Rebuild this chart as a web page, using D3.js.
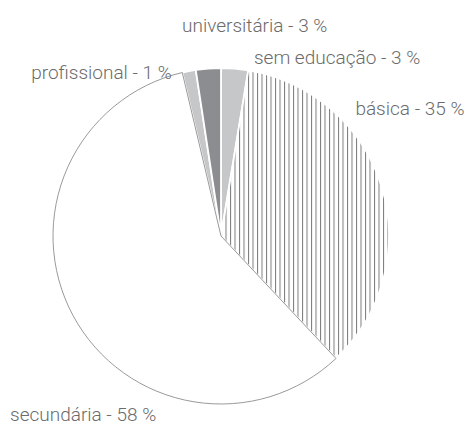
<!DOCTYPE html>
<html>
<head>
<meta charset="utf-8">
<script src="https://cdn.jsdelivr.net/npm/d3@7"></script>
<style>
  body { margin: 0; background: #fff; }
  .label { font-family: Roboto, "Liberation Sans", sans-serif; font-weight: 300; font-size: 19px; fill: #6b6b6b; }
</style>
</head>
<body>
<div id="chart"></div>
<script>
// the data (order = clockwise from 12 o'clock)
var categories = ["sem educação", "básica", "secundária", "profissional", "universitária"];
var shares = [2.6, 35.4, 58.3, 1.3, 2.4];
var labelPct = ["3 %", "35 %", "58 %", "1 %", "3 %"];

function drawChart(){

var width = 469,
    height = 428,
    cx = 221,
    cy = 236,
    radius = 168;

var data = categories.map(function(c, i) {
  return {name: c, value: shares[i], pct: labelPct[i]};
});

var svg = d3.select("#chart").append("svg")
    .attr("width", width)
    .attr("height", height);

// vertical hatch for "básica"
var defs = svg.append("defs");
var pat = defs.append("pattern")
    .attr("id", "hatch")
    .attr("patternUnits", "userSpaceOnUse")
    .attr("width", 4.5)
    .attr("height", 10);
pat.append("rect")
    .attr("width", 4.5)
    .attr("height", 10)
    .attr("fill", "#fff");
pat.append("line")
    .attr("x1", 0.5).attr("x2", 0.5)
    .attr("y1", 0).attr("y2", 10)
    .attr("stroke", "#7a7a7a")
    .attr("stroke-width", 1);

var fills = {
  "sem educação": "#c6c7c9",
  "básica": "url(#hatch)",
  "secundária": "#fff",
  "profissional": "#c6c7c9",
  "universitária": "#8c8d90"
};

var pie = d3.pie()
    .sort(null)
    .value(function(d) { return d.value; });

var arc = d3.arc()
    .innerRadius(0)
    .outerRadius(radius);

var g = svg.append("g")
    .attr("transform", "translate(" + cx + "," + cy + ")");

var arcs = pie(data);

g.selectAll("path.slice")
    .data(arcs)
    .enter().append("path")
    .attr("class", "slice")
    .attr("d", arc)
    .attr("fill", function(d) { return fills[d.data.name]; })
    .attr("stroke", function(d) { return d.data.name == "secundária" ? "#9a9a9a" : "#fff"; })
    .attr("stroke-width", function(d) { return d.data.name == "secundária" ? 1 : 1.8; })
    .attr("stroke-linejoin", "round");

// put the outlined slice on top so its edge shows
g.selectAll("path.slice").filter(function(d) { return d.data.name == "secundária"; }).raise();

// label spots, relative to the centre, in units of the radius
var labelSpot = {
  "universitária": [-0.232, -1.215],
  "sem educação": [0.196, -1.025],
  "básica": [0.80, -0.72],
  "profissional": [-1.13, -0.935],
  "secundária": [-1.256, 1.1]
};

g.selectAll("text.label")
    .data(arcs)
    .enter().append("text")
    .attr("class", "label")
    .attr("x", function(d) { return labelSpot[d.data.name][0] * radius; })
    .attr("y", function(d) { return labelSpot[d.data.name][1] * radius; })
    .text(function(d) { return d.data.name + " - " + d.data.pct; });
}

drawChart();
</script>
</body>
</html>
